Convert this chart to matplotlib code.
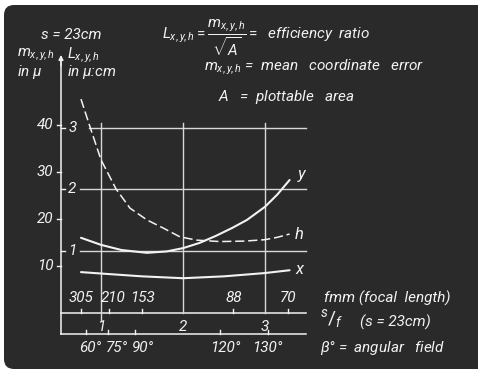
import numpy as np
import matplotlib
matplotlib.use("Agg")
import matplotlib.pyplot as plt
from matplotlib.patches import FancyBboxPatch
from matplotlib.transforms import IdentityTransform

plt.rcParams['font.family'] = ['Roboto', 'DejaVu Sans']
plt.rcParams['mathtext.fontset'] = 'custom'
plt.rcParams['mathtext.rm'] = 'Roboto'
plt.rcParams['mathtext.it'] = 'Roboto:italic'
plt.rcParams['mathtext.bf'] = 'Roboto:bold'

# curves: abscissa s/f, ordinate m in micron
x_sf = [0.756, 1.0, 1.5, 2.0, 2.5, 3.0, 3.3]
x_m = [8.7, 8.4, 7.8, 7.4, 7.8, 8.5, 9.1]

y_sf = [0.756, 1.0, 1.25, 1.56, 1.8, 2.0, 2.2, 2.4, 2.6, 2.78, 3.0, 3.15, 3.3]
y_m = [16.0, 14.5, 13.4, 12.8, 13.1, 13.8, 14.9, 16.4, 18.1, 19.8, 22.6, 25.2, 28.3]

h_sf = [0.756, 0.866, 1.0, 1.183, 1.354, 1.561, 1.756, 1.963, 2.17, 2.45, 2.75, 3.0, 3.15, 3.3]
h_m = [45.5, 39.6, 32.6, 26.4, 22.3, 19.8, 18.1, 16.2, 15.5, 15.2, 15.3, 15.6, 16.1, 16.8]

m_ticks = [10, 20, 30, 40]
L_ticks = [1, 2, 3]
L_to_m = 13.15
sf_ticks = [1, 2, 3]
s_mm = 230
focal = [305, 210, 153, 88, 70]
angles = [60, 75, 90, 120, 130]

W, H = 478, 374
bg = '#2a2a2a'
fg = '#f2f2f2'
grid_c = '#d8d8d8'

fig = plt.figure(figsize=(W / 100, H / 100), dpi=100, facecolor='white')

board = FancyBboxPatch((4, 5), 520, 364, boxstyle='round,pad=0,rounding_size=10',
                       transform=IdentityTransform(), facecolor=bg, edgecolor='none',
                       zorder=-10)
fig.patches.append(board)

# axes spanning whole figure, pixel x = 19 + 82*sf, pixel y = 313 - 4.7*m
ax = fig.add_axes([0, 0, 1, 1])
ax.set_facecolor('none')
ax.set_xlim(-19 / 82, (W - 19) / 82)
ax.set_ylim((313 - H) / 4.7, 313 / 4.7)
ax.axis('off')


def fx(px):
    return px / W


def fy(py):
    return 1 - py / H


y_axis_x = 0.512
low_m = -4.47
right_sf = 3.5
fs = 11

# main axes lines
ax.plot([y_axis_x, y_axis_x], [low_m, 53.5], color=fg, lw=1.1)
ax.annotate('', xy=(y_axis_x, 55.5), xytext=(y_axis_x, 52),
            arrowprops=dict(arrowstyle='-|>', color=fg, lw=1, mutation_scale=7))
ax.plot([y_axis_x, right_sf], [0, 0], color=fg, lw=1.1)
ax.plot([y_axis_x, right_sf], [low_m, low_m], color=fg, lw=1.1)

# grid
for v in sf_ticks:
    ax.plot([v, v], [-1.5 if v == 1 else 0, 40.4], color=grid_c, lw=1.0)
for L in L_ticks:
    start = 0.85 if L == 3 else 0.745
    ax.plot([start, right_sf], [L * L_to_m, L * L_to_m], color=grid_c, lw=1.0)

# left ticks and labels
for m in m_ticks:
    ax.plot([y_axis_x - 0.05, y_axis_x], [m, m], color=fg, lw=1)
    ax.text(y_axis_x - 0.09, m, str(m), color=fg, fontsize=fs, style='italic',
            ha='right', va='center')
for L in L_ticks:
    ax.plot([y_axis_x, y_axis_x + 0.05], [L * L_to_m, L * L_to_m], color=fg, lw=1)
    ax.text(0.65, L * L_to_m, str(L), color=fg, fontsize=fs, style='italic',
            ha='center', va='center')

# focal length ticks
for f in focal:
    p = s_mm / f
    ax.plot([p, p], [0, 0.9], color=fg, lw=1)
    dx = 0.05 if f == 210 else 0.0
    ax.text(p + dx, 3.2, str(f), color=fg, fontsize=fs, style='italic',
            ha='center', va='center')

# s/f labels
for v in sf_ticks:
    ax.text(v, -2.9, str(v), color=fg, fontsize=fs, style='italic',
            ha='center', va='center')

# angle ticks
angle_dx = {60: 0.05, 75: 0.11, 90: 0.1, 120: 0.06, 130: 0.0}
for b in angles:
    p = np.sqrt(2) * np.tan(np.radians(b / 2))
    ax.plot([p, p], [low_m, low_m + 0.8], color=fg, lw=1)
    ax.text(p + angle_dx[b], -7.5, f'{b}°', color=fg, fontsize=fs, style='italic',
            ha='center', va='center')

# curves
ax.plot(x_sf, x_m, color=fg, lw=1.5, solid_capstyle='round')
ax.plot(y_sf, y_m, color=fg, lw=1.5, solid_capstyle='round')
ax.plot(h_sf, h_m, color=fg, lw=1.1, linestyle=(0, (6, 2.5)))
ax.text(3.42, 9.3, 'x', color=fg, fontsize=12, style='italic', ha='center', va='center')
ax.text(3.45, 29.4, 'y', color=fg, fontsize=12, style='italic', ha='center', va='center')
ax.text(3.42, 16.8, 'h', color=fg, fontsize=12, style='italic', ha='center', va='center')

# header texts
tk = dict(color=fg, fontsize=fs, style='italic', va='center')
fig.text(fx(41), fy(35), 's = 23cm', **tk)
fig.text(fx(17), fy(55), r'$m_{x,y,h}$', **tk)
fig.text(fx(17), fy(72), r'in $\mu$', **tk)
fig.text(fx(67), fy(55), r'$L_{x,y,h}$', **tk)
fig.text(fx(67), fy(72), r'in $\mu$:cm', **tk)

fig.text(fx(162), fy(39), r'$L_{x,y,h}=\dfrac{m_{x,y,h}}{\sqrt{A}}=$  efficiency  ratio',
         color=fg, fontsize=fs, style='italic', va='baseline')
fig.text(fx(204), fy(67), r'$m_{x,y,h}$ =  mean   coordinate   error', **tk)
fig.text(fx(218), fy(97), r'$A$   =  plottable   area', **tk)

fig.text(fx(324), fy(298), 'fmm (focal  length)', **tk)
fig.text(fx(320), fy(319), r'$^{s}/_{f}$', color=fg, fontsize=14, va='center')
fig.text(fx(360), fy(322), '(s = 23cm)', **tk)
fig.text(fx(320), fy(348), r'$\beta$° =  angular   field', **tk)

fig.savefig('out.png', dpi=100, facecolor='white')
